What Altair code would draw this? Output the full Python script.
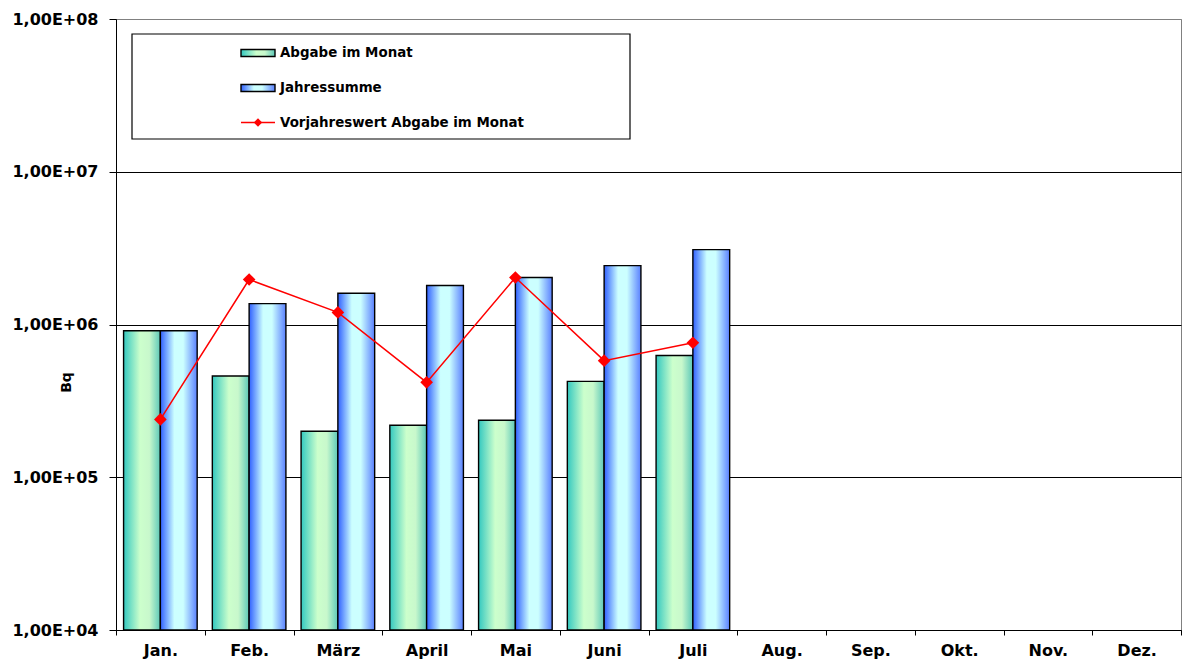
import altair as alt
import pandas as pd

# ---- data -------------------------------------------------------------
months = ["Jan.", "Feb.", "März", "April", "Mai", "Juni", "Juli",
          "Aug.", "Sep.", "Okt.", "Nov.", "Dez."]
data_months = ["Jan.", "Feb.", "März", "April", "Mai", "Juni", "Juli"]
abgabe_monat = [9.1e5, 4.6e5, 2.0e5, 2.19e5, 2.36e5, 4.24e5, 6.27e5]
jahressumme = [9.1e5, 1.37e6, 1.6e6, 1.8e6, 2.03e6, 2.43e6, 3.09e6]
vorjahr_monat = [2.39e5, 1.97e6, 1.2e6, 4.18e5, 2.03e6, 5.8e5, 7.6e5]
series = ["Abgabe im Monat", "Jahressumme", "Vorjahreswert Abgabe im Monat"]
y_ticks = [1e4, 1e5, 1e6, 1e7, 1e8]
y_min, y_max = 1e4, 1e8
y_title = "Bq"

FONT = "DejaVu Sans"

df_a = pd.DataFrame({"Monat": data_months, "Serie": series[0], "Wert": abgabe_monat})
df_j = pd.DataFrame({"Monat": data_months, "Serie": series[1], "Wert": jahressumme})
df_v = pd.DataFrame({"Monat": data_months, "Serie": series[2], "Wert": vorjahr_monat})

green_grad = alt.Gradient(
    gradient="linear", x1=0, x2=1, y1=0, y2=0,
    stops=[alt.GradientStop(color="#33c8c0", offset=0),
           alt.GradientStop(color="#ccffcc", offset=0.45),
           alt.GradientStop(color="#c8f8cc", offset=0.7),
           alt.GradientStop(color="#5cc8b8", offset=1)])
blue_grad = alt.Gradient(
    gradient="linear", x1=0, x2=1, y1=0, y2=0,
    stops=[alt.GradientStop(color="#3060ff", offset=0),
           alt.GradientStop(color="#ccffff", offset=0.38),
           alt.GradientStop(color="#ccffff", offset=0.62),
           alt.GradientStop(color="#5a80ff", offset=1)])

x_enc = alt.X("Monat:N", sort=months,
              scale=alt.Scale(domain=months, paddingInner=0, paddingOuter=0),
              axis=alt.Axis(title=None, labelAngle=0, labelFont=FONT,
                            labelFontSize=16, labelFontWeight="bold",
                            labelColor="black", tickBand="extent", tickSize=5,
                            tickColor="black", domainColor="black",
                            labelPadding=7, grid=False))
xo_enc = alt.XOffset("Serie:N",
                     scale=alt.Scale(domain=series[:2], paddingInner=0,
                                     paddingOuter=0.206))
y_enc = alt.Y("Wert:Q",
              scale=alt.Scale(type="log", domain=[y_min, y_max]),
              axis=alt.Axis(values=y_ticks,
                            labelExpr="'1,00E+0' + round(log(datum.value) / LN10)",
                            title=y_title, titleFont=FONT, titleFontSize=14,
                            titleFontWeight="bold", titleColor="black",
                            titleAngle=-90, titleX=-50, titleY=363,
                            titleAlign="center", titleBaseline="middle",
                            labelFont=FONT, labelFontSize=16,
                            labelFontWeight="bold", labelColor="black",
                            labelOverlap=False, labelFlush=False,
                            tickSize=7, tickColor="black", labelPadding=11,
                            domainColor="black",
                            grid=True, gridWidth=1,
                            gridColor={"condition": {"test": "datum.value > 5e7",
                                                     "value": "#808080"},
                                       "value": "black"}))
y2_enc = alt.datum(y_min)

bars_a = alt.Chart(df_a).mark_bar(fill=green_grad, stroke="black",
                                  strokeWidth=1.4).encode(
    x=x_enc, xOffset=xo_enc, y=y_enc, y2=y2_enc)
bars_j = alt.Chart(df_j).mark_bar(fill=blue_grad, stroke="black",
                                  strokeWidth=1.4).encode(
    x=x_enc, xOffset=xo_enc, y=y_enc, y2=y2_enc)
line_v = alt.Chart(df_v).mark_line(color="#ff0000", strokeWidth=1.5).encode(x=x_enc, y=y_enc)
pts_v = alt.Chart(df_v).mark_point(shape="diamond", filled=True, size=160,
                                   color="#ff0000", opacity=1).encode(x=x_enc, y=y_enc)

# ---- manual legend ----------------------------------------------------
one = pd.DataFrame({"k": [0]})
leg_box = alt.Chart(one).mark_rect(fill="white", stroke="black", strokeWidth=1.2).encode(
    x=alt.value(16), x2=alt.value(514), y=alt.value(15), y2=alt.value(120))
leg_sw1 = alt.Chart(one).mark_rect(fill=green_grad, stroke="black", strokeWidth=1.4).encode(
    x=alt.value(125), x2=alt.value(159), y=alt.value(30.5), y2=alt.value(37.5))
leg_sw2 = alt.Chart(one).mark_rect(fill=blue_grad, stroke="black", strokeWidth=1.4).encode(
    x=alt.value(125), x2=alt.value(159), y=alt.value(65.5), y2=alt.value(72.5))
leg_ln = alt.Chart(one).mark_rule(color="#ff0000", strokeWidth=1.5).encode(
    x=alt.value(125), x2=alt.value(159), y=alt.value(103.5))
leg_pt = alt.Chart(one).mark_point(shape="diamond", filled=True, size=70,
                                   color="#ff0000", opacity=1).encode(
    x=alt.value(142), y=alt.value(103.5))

def leg_text(label, ypos):
    return alt.Chart(one).mark_text(align="left", baseline="middle", font=FONT,
                                    fontSize=13.4, fontWeight="bold",
                                    color="black").encode(
        x=alt.value(164), y=alt.value(ypos), text=alt.value(label))

chart = alt.layer(
    bars_a, bars_j, line_v, pts_v,
    leg_box, leg_sw1, leg_sw2, leg_ln, leg_pt,
    leg_text(series[0], 34), leg_text(series[1], 69), leg_text(series[2], 103.5),
).properties(
    width=1065, height=611,
    padding={"left": 108, "top": 11, "right": 1, "bottom": 31},
    autosize=alt.AutoSizeParams(type="none"),
    background="white",
).configure_view(stroke="#808080", strokeWidth=1)

chart.save("out.html", embed_options={"renderer": "svg", "actions": False})
